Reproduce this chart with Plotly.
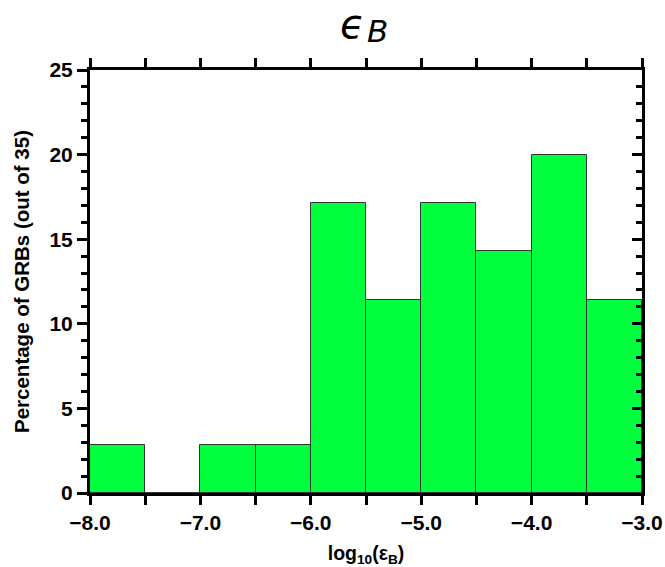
import plotly.graph_objects as go

bin_left = [-8.0, -7.5, -7.0, -6.5, -6.0, -5.5, -5.0, -4.5, -4.0, -3.5]
counts = [1, 0, 1, 1, 6, 4, 6, 5, 7, 4]
total = 35
bin_width = 0.5
pct = [c / total * 100 for c in counts]
centers = [b + bin_width / 2 for b in bin_left]
xtick_vals = [-8.0, -7.0, -6.0, -5.0, -4.0, -3.0]
xtick_text = ["\u22128.0", "\u22127.0", "\u22126.0", "\u22125.0", "\u22124.0", "\u22123.0"]
ytick_vals = [0, 5, 10, 15, 20, 25]

fig = go.Figure()
fig.add_trace(go.Bar(x=centers, y=pct, width=[bin_width] * len(centers),
                     marker=dict(color="#00ff3c", line=dict(color="#333333", width=1)),
                     showlegend=False))
# dummy trace to create the mirrored axes
fig.add_trace(go.Scatter(x=[-8, -3], y=[0, 25], xaxis="x2", yaxis="y2", mode="none",
                         showlegend=False, hoverinfo="skip"))

FAM = "Liberation Sans, Arial"
tickfont = dict(family=FAM, size=21, color="black", weight="bold")
L, R, T, B = 90, 23, 70, 74
W, H = 665, 567
pw, ph = W - L - R, H - T - B

def px(x):
    return (x - L) / pw

def py(y):
    return (H - B - y) / ph

fig.update_layout(
    width=W, height=H,
    margin=dict(l=L, r=R, t=T, b=B),
    plot_bgcolor="white", paper_bgcolor="white",
    bargap=0,
    xaxis=dict(range=[-8, -3], tickmode="array", tickvals=xtick_vals, ticktext=xtick_text,
               ticks="outside", ticklen=9, tickwidth=3, tickcolor="black", automargin=False,
               minor=dict(tick0=-8, dtick=0.5, ticks="outside", ticklen=9, tickwidth=3, tickcolor="black", showgrid=False),
               showline=True, linewidth=3, linecolor="black", showgrid=False, zeroline=False,
               tickfont=tickfont,
               title=dict(text="<b>log<sub>10</sub>(ε<sub>B</sub>)</b>",
                          font=dict(family=FAM, size=19.5, color="black"))),
    yaxis=dict(range=[0, 25], tickmode="array", tickvals=ytick_vals, automargin=False,
               ticks="outside", ticklen=10, tickwidth=3, tickcolor="black",
               minor=dict(dtick=1, ticks="outside", ticklen=6, tickwidth=3, tickcolor="black", showgrid=False),
               showline=True, linewidth=3, linecolor="black", showgrid=False, zeroline=False,
               tickfont=tickfont,
               title=dict(text="<b>Percentage of GRBs (out of 35)</b>",
                          font=dict(family=FAM, size=20.5, color="black"))),
    xaxis2=dict(range=[-8, -3], overlaying="x", side="top", tickmode="linear", dtick=0.5, tick0=-8,
                ticks="outside", ticklen=9, tickwidth=3, tickcolor="black", showticklabels=False,
                automargin=False,
                showline=True, linewidth=3, linecolor="black", showgrid=False, zeroline=False),
    yaxis2=dict(range=[0, 25], overlaying="y", side="right", tickmode="linear", tick0=0, dtick=5,
                ticks="inside", ticklen=10, tickwidth=3, tickcolor="black", showticklabels=False,
                automargin=False,
                minor=dict(dtick=1, ticks="inside", ticklen=6, tickwidth=3, tickcolor="black", showgrid=False),
                showline=True, linewidth=3, linecolor="black", showgrid=False, zeroline=False),
    annotations=[
        dict(text="<i>ϵ</i>", x=px(352), y=py(24), xref="paper", yref="paper", showarrow=False,
             xanchor="center", yanchor="middle", font=dict(family="DejaVu Sans", size=40, color="black")),
        dict(text="<i>B</i>", x=px(377), y=py(31), xref="paper", yref="paper", showarrow=False,
             xanchor="center", yanchor="middle", font=dict(family="DejaVu Sans", size=31, color="black")),
    ],
)
fig.write_html("out.html")
